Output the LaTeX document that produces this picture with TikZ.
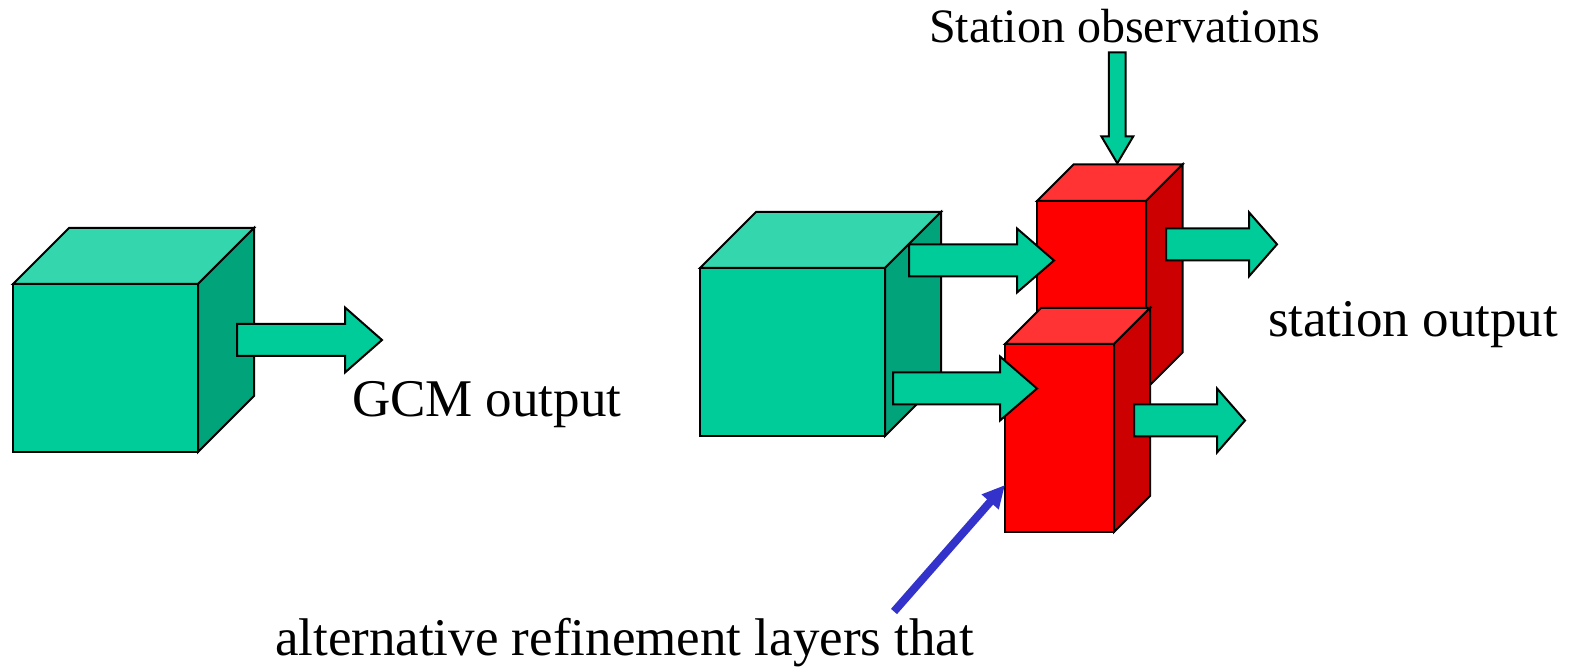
\documentclass[tikz,border=0pt]{standalone}
\usepackage{fontspec}
\setmainfont{Liberation Serif}
\usetikzlibrary{arrows.meta}

\definecolor{greenfront}{HTML}{00CC99}
\definecolor{greentop}{HTML}{33D6AD}
\definecolor{greenside}{HTML}{00A37A}
\definecolor{redfront}{HTML}{FF0000}
\definecolor{redtop}{HTML}{FF3333}
\definecolor{redside}{HTML}{CC0000}
\definecolor{pointerblue}{HTML}{3333CC}

\tikzset{
  outline/.style={draw=black, line width=1pt, line join=miter},
  label text/.style={anchor=base west, inner sep=0pt, outer sep=0pt,
    font=\fontsize{26.5}{30}\selectfont},
  small label/.style={label text, font=\fontsize{24}{28}\selectfont},
  pointer/.style={line width=4pt, color=pointerblue,
    -{Triangle[length=11.3pt,width=10.6pt]}},
  % block arrow pointing along local +x: length / head length / shaft half-width / head half-width
  pics/blockarrow/.style args={#1/#2/#3/#4}{code={
    \draw[outline, fill=greenfront]
      (0,-#3) -- (#1-#2,-#3) -- (#1-#2,-#4) -- (#1,0) -- (#1-#2,#4)
      -- (#1-#2,#3) -- (0,#3) -- cycle;
  }}
}

% cuboid: front top-left corner (x,y), width, height, depth, front/top/side colours
\newcommand{\cuboid}[8]{%
  \draw[outline, fill=#7] (#1,#2) -- ++(#5,-#5) -- ++(#3,0) -- ++(-#5,#5) -- cycle;
  \draw[outline, fill=#8] (#1+#3,#2) -- ++(#5,-#5) -- ++(0,#4) -- ++(-#5,#5) -- cycle;
  \draw[outline, fill=#6] (#1,#2) rectangle ++(#3,#4);
}

\begin{document}
\begin{tikzpicture}[x=0.5pt, y=-0.5pt]
  \useasboundingbox (0,0) rectangle (1572,667);

  % GCM on its own
  \cuboid{13}{284}{185}{168}{56}{greenfront}{greentop}{greenside}
  \pic at (237,340) {blockarrow=145/37/16/32.5};
  \node[label text] (gcm) at (352,416.7) {GCM output};

  % GCM with refinement layers
  \cuboid{700}{268}{185}{168}{56}{greenfront}{greentop}{greenside}
  \cuboid{1037}{201}{109}{188}{36.5}{redfront}{redtop}{redside}
  \pic at (909,260.5) {blockarrow=145/37/16/32};
  \pic at (1166,244.3) {blockarrow=111/28/16/32};
  \pic[rotate=-90] at (1117.3,52.3) {blockarrow=111/27/8.4/16};

  \cuboid{1005}{344}{109}{188}{36}{redfront}{redtop}{redside}
  \pic at (893,388.5) {blockarrow=144/37/16/32};
  \pic at (1134,420.5) {blockarrow=111/28/16/32};

  \node[small label] (obs) at (929,43) {Station observations};
  \node[label text] (stout) at (1268,336.7) {station output};
  \node[label text] (alt) at (275,655) {alternative refinement layers that};

  % pointer to the lower layer
  \coordinate (pointer tail) at (894,611.5);
  \coordinate (layer edge) at (1005,485);
  \draw[pointer] (pointer tail) -- (layer edge);
\end{tikzpicture}
\end{document}
